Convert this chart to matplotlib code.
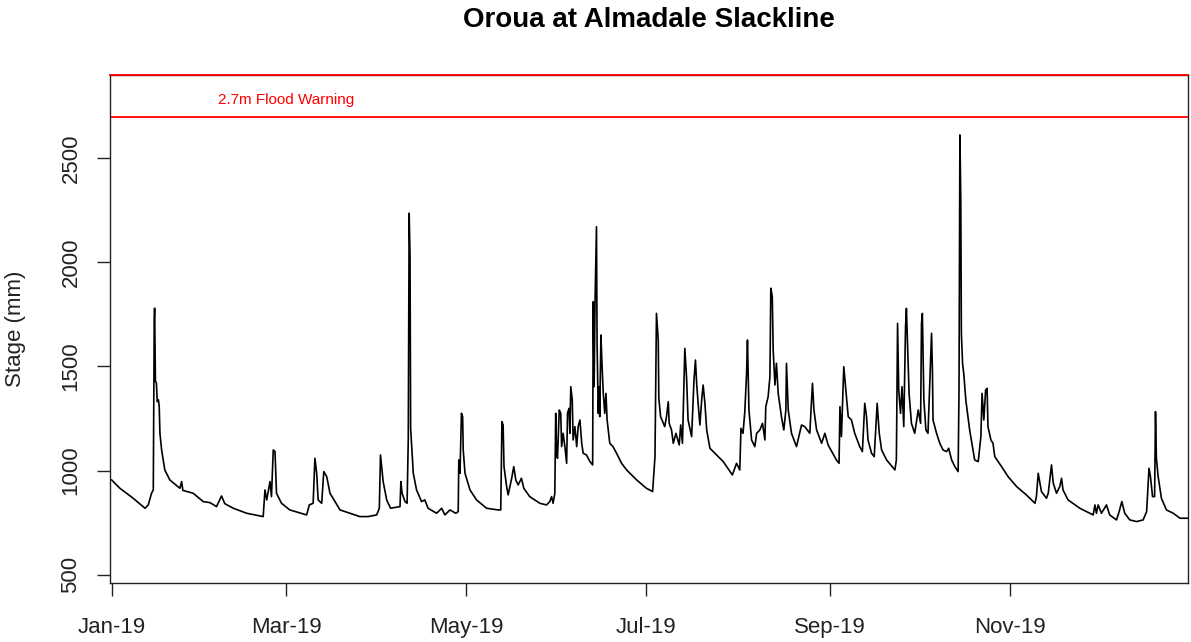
import matplotlib
matplotlib.use("Agg")
import matplotlib.pyplot as plt
import matplotlib.dates as mdates
import pandas as pd

plt.rcParams['font.family'] = ['Liberation Sans', 'DejaVu Sans']

# stage readings (mm), days since 1 Jan 2019
days = [0.0, 2.8, 7.3, 11.3, 12.4, 13.5, 14.1, 14.42, 14.55, 14.82, 15.16, 15.43, 15.84, 16.11,
        16.35, 16.92, 18.0, 19.7, 23.1, 23.7, 24.1, 27.6, 31.0, 33.3, 35.5, 37.2, 38.3, 41.2,
        45.7, 51.3, 51.9, 52.5, 53.6, 54.1, 54.7, 55.3, 55.8, 57.5, 60.3, 66.0, 66.9, 68.2,
        68.8, 69.4, 69.9, 71.1, 71.8, 72.8, 73.9, 77.3, 84.0, 86.8, 89.7, 90.6, 91.0, 91.4,
        91.9, 93.1, 94.4, 97.6, 97.9, 98.3, 99.3, 100.0, 100.4, 100.7, 101.0, 101.2, 102.1,
        103.2, 104.9, 106.0, 107.1, 110.0, 111.7, 112.8, 114.5, 116.5, 117.3, 117.5, 117.9,
        118.4, 118.8, 119.0, 119.6, 121.3, 123.5, 126.9, 130.8, 131.7, 132.1, 132.5, 132.8,
        133.7, 134.2, 135.4, 136.1, 136.8, 137.6, 138.7, 139.5, 141.5, 144.9, 147.2, 148.3,
        148.9, 149.4, 150.0, 150.3, 150.6, 150.9, 151.5, 152.0, 152.3, 152.8, 153.4, 154.0,
        154.3, 154.8, 155.1, 155.4, 155.9, 156.2, 156.8, 157.4, 157.9, 158.5, 159.1, 159.6,
        160.7, 161.9, 162.8, 163.0, 163.3, 163.6, 164.1, 164.3, 164.7, 165.0, 165.2, 165.6,
        166.0, 166.4, 166.9, 167.3, 167.7, 168.6, 169.7, 170.9, 172.6, 174.3, 177.7, 181.0,
        183.1, 183.9, 184.4, 185.0, 185.2, 185.8, 187.2, 187.8, 188.4, 188.7, 189.5, 190.1,
        191.0, 192.1, 192.6, 193.2, 194.0, 194.6, 195.1, 196.3, 197.1, 197.6, 198.0, 198.5,
        199.1, 199.7, 200.2, 200.8, 201.4, 202.5, 204.2, 207.0, 209.3, 210.1, 211.5, 212.6,
        213.0, 213.7, 214.3, 214.9, 215.2, 215.7, 216.6, 217.7, 218.3, 219.4, 220.3, 221.1,
        221.4, 222.2, 222.8, 223.1, 223.6, 223.9, 224.5, 225.0, 225.6, 226.7, 227.5, 228.2,
        228.4, 229.0, 230.1, 231.8, 233.5, 234.6, 236.3, 237.2, 237.7, 238.6, 240.3, 241.4,
        242.5, 245.3, 246.2, 246.5, 247.0, 247.8, 248.5, 249.3, 250.4, 251.5, 253.2, 254.1,
        254.9, 255.5, 256.0, 257.2, 258.1, 259.1, 259.8, 260.6, 262.3, 265.1, 265.6, 266.0,
        266.4, 267.0, 267.5, 268.1, 268.7, 269.0, 269.4, 269.9, 270.7, 271.8, 273.0, 273.8,
        274.1, 274.4, 274.9, 275.6, 276.3, 277.5, 277.8, 278.0, 279.2, 280.3, 281.4, 282.6,
        283.3, 284.3, 285.4, 286.5, 286.8, 287.1, 287.4, 287.6, 288.0, 288.4, 289.1, 290.4,
        292.1, 293.3, 294.2, 294.6, 295.2, 295.8, 296.3, 296.6, 297.6, 298.3, 298.9, 301.2,
        303.4, 306.3, 309.6, 312.5, 313.0, 313.6, 314.2, 314.7, 316.4, 317.0, 318.1, 318.7,
        319.8, 320.9, 321.5, 322.0, 323.7, 327.7, 332.2, 332.8, 333.3, 333.9, 335.0, 336.7,
        337.8, 340.1, 341.0, 341.9, 342.9, 344.6, 346.9, 349.1, 350.3, 351.1, 351.6, 352.3,
        353.0, 353.3, 353.6, 354.2, 355.3, 357.0, 359.3, 361.6, 364.2]

stage = [955, 915, 867, 819, 835, 891, 907, 1720, 1780, 1430, 1419, 1331, 1340, 1307,
         1179, 1099, 1003, 955, 915, 947, 905, 891, 851, 846, 827, 878, 841, 819,
         795, 779, 907, 859, 947, 875, 1099, 1091, 891, 843, 811, 787, 835, 843,
         1059, 987, 859, 843, 995, 971, 891, 811, 779, 779, 787, 819, 1075, 1019,
         947, 859, 819, 827, 947, 891, 851, 843, 1150, 2236, 2027, 1203, 987,
         907, 851, 859, 819, 795, 819, 787, 811, 795, 803, 1051, 987,
         1275, 1259, 1099, 987, 907, 859, 819, 811, 811, 1235, 1219, 1019,
         923, 883, 963, 1019, 955, 931, 963, 915, 875, 843, 835, 851,
         875, 843, 891, 1275, 1083, 1059, 1291, 1275, 1115, 1179, 1115, 1035,
         1275, 1299, 1179, 1403, 1339, 1147, 1211, 1115, 1211, 1243, 1131, 1083,
         1075, 1043, 1027, 1811, 1403, 1803, 2171, 1611, 1275, 1403, 1259, 1651,
         1499, 1371, 1275, 1371, 1243, 1131, 1115, 1083, 1035, 1003, 955, 915,
         899, 1067, 1755, 1627, 1347, 1259, 1211, 1259, 1331, 1227, 1195, 1131,
         1179, 1123, 1219, 1131, 1587, 1443, 1243, 1163, 1435, 1531, 1419, 1323,
         1219, 1339, 1411, 1323, 1195, 1107, 1083, 1043, 995, 979, 1035, 1003,
         1203, 1179, 1283, 1467, 1627, 1291, 1147, 1115, 1179, 1195, 1227, 1147,
         1307, 1355, 1451, 1876, 1836, 1579, 1411, 1515, 1371, 1259, 1195, 1291,
         1515, 1291, 1179, 1115, 1219, 1211, 1179, 1419, 1291, 1195, 1131, 1179,
         1123, 1051, 1035, 1307, 1163, 1499, 1387, 1259, 1243, 1179, 1115, 1091,
         1323, 1259, 1147, 1083, 1067, 1323, 1179, 1099, 1051, 1003, 1051, 1707,
         1387, 1275, 1403, 1211, 1691, 1779, 1595, 1371, 1227, 1179, 1291, 1227,
         1707, 1755, 1339, 1195, 1179, 1659, 1483, 1243, 1179, 1131, 1099, 1091,
         1107, 1051, 1019, 995, 1387, 2612, 2300, 1659, 1515, 1467, 1339, 1195,
         1051, 1043, 1163, 1371, 1243, 1387, 1395, 1211, 1147, 1131, 1067, 1019,
         971, 923, 883, 843, 875, 987, 939, 899, 867, 891, 1027, 939,
         891, 923, 963, 907, 859, 819, 787, 835, 795, 835, 795, 835,
         787, 763, 803, 851, 795, 763, 755, 763, 803, 1011, 971, 875,
         875, 1283, 1059, 971, 867, 811, 795, 771, 771]

warning_level = 2700
top_level = 2900
yticks = [500, 1000, 1500, 2000, 2500]
month_ticks = ['2019-01-01', '2019-03-01', '2019-05-01', '2019-07-01', '2019-09-01', '2019-11-01']

start = pd.Timestamp('2019-01-01')
times = start + pd.to_timedelta(days, unit='D')

fig = plt.figure(figsize=(11.91, 6.42), dpi=100)
ax = fig.add_axes([110 / 1191, 59 / 642, 1078 / 1191, 508 / 642])

ax.plot(times, stage, color='black', linewidth=1.2)
ax.axhline(warning_level, color='red', linewidth=1.3)
ax.axhline(top_level, color='red', linewidth=1.3, clip_on=False, zorder=3)
ax.text(pd.Timestamp('2019-03-01'), 2780, '2.7m Flood Warning', color='red',
        fontsize=11, ha='center', va='center')

ax.set_xlim(start - pd.Timedelta(days=0.55), start + pd.Timedelta(days=364.3))
ax.set_ylim(460, 2900)

ax.set_yticks(yticks)
ax.set_xticks(pd.to_datetime(month_ticks))
ax.xaxis.set_major_formatter(mdates.DateFormatter('%b-%y'))
ax.tick_params(axis='both', direction='out', length=9.5, width=1.0, labelsize=16, colors='#222222')
ax.tick_params(axis='x', pad=15)
ax.tick_params(axis='y', pad=11)
for lab in ax.get_yticklabels():
    lab.set_rotation(90)
    lab.set_va('center')
for s in ax.spines.values():
    s.set_linewidth(1.0)
    s.set_color('#222222')

fig.text(16 / 1191, 1 - 329 / 642, 'Stage (mm)', rotation=90, fontsize=16,
         ha='center', va='center', color='#222222')
fig.text(649 / 1191, 1 - 20 / 642, 'Oroua at Almadale Slackline', fontsize=20,
         fontweight='bold', ha='center', va='center')

fig.savefig('out.png', dpi=100)
